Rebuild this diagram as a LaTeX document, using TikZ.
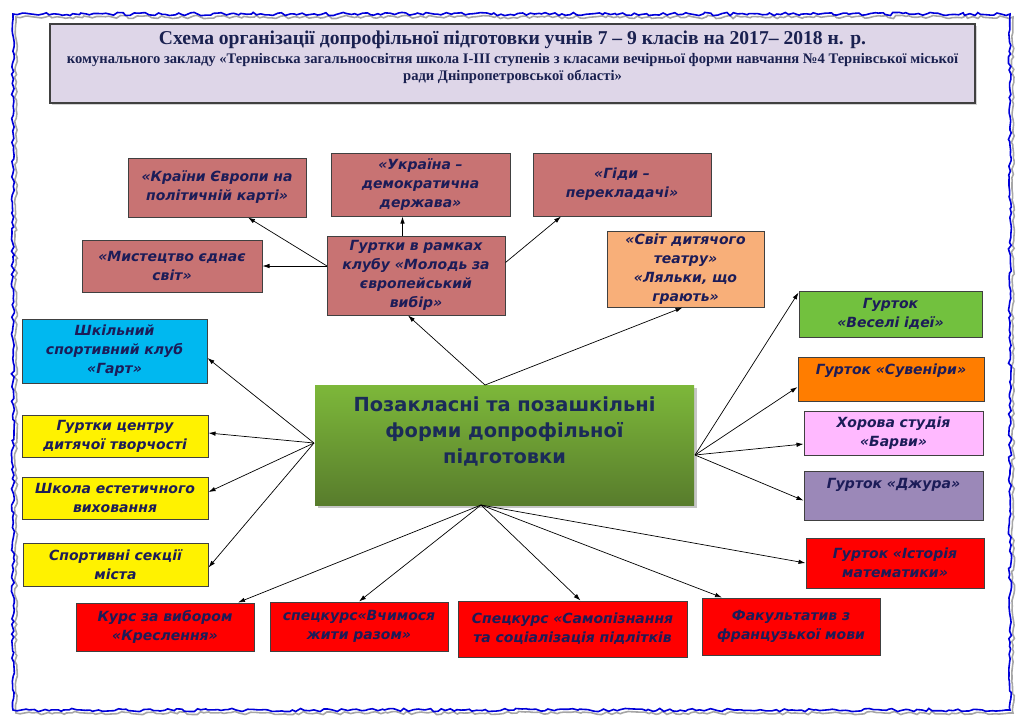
\documentclass[tikz,border=0pt]{standalone}
\usepackage{fontspec}
\setmainfont{Liberation Serif}
\newfontfamily\boxfont{DejaVu Sans}
\usetikzlibrary{arrows.meta, positioning, shadows, decorations.pathmorphing}

\definecolor{navy}{HTML}{1C1C58}
\definecolor{titlenavy}{HTML}{1A2150}
\definecolor{boxline}{HTML}{404040}
\definecolor{lavender}{HTML}{DED6E8}
\definecolor{clubrose}{HTML}{C87373}
\definecolor{teatrsalmon}{HTML}{F8AF79}
\definecolor{hartblue}{HTML}{00B8F0}
\definecolor{veseligreen}{HTML}{72C13E}
\definecolor{suvenirorange}{HTML}{FF7D00}
\definecolor{barvypink}{HTML}{FFB9FF}
\definecolor{dzhurapurple}{HTML}{9B88B8}
\definecolor{formstop}{HTML}{7DB83A}
\definecolor{formsbottom}{HTML}{587C2C}
\definecolor{formstext}{HTML}{1B2B58}

\tikzset{
  box/.style={draw=boxline, line width=1pt, inner sep=0pt, align=center,
    font=\boxfont\bfseries\itshape\fontsize{14}{19}\selectfont, text=navy},
  sz/.style 2 args={minimum width=#1pt, minimum height=#2pt, text width=#1pt},
  arr/.style={-{Latex[length=7pt,width=4.5pt]}, line width=0.7pt},
  frame/.style={draw=blue!85!black, line width=1.6pt,
    decorate, decoration={random steps, segment length=4pt, amplitude=1.6pt}},
}

\begin{document}
\begin{tikzpicture}[x=1pt, y=-1pt]
  \useasboundingbox (0,0) rectangle (1024,724);

  % wavy frame with its shadow
  \pgfmathsetseed{11}
  \draw[frame, draw=black!35] (16,17) rectangle (1013,713);
  \pgfmathsetseed{11}
  \draw[frame] (13,14) rectangle (1010,710);

  % title
  \node[draw=boxline, line width=1.2pt, fill=lavender, sz={925}{79}, inner sep=0pt,
        drop shadow={opacity=0.35, shadow xshift=2pt, shadow yshift=-2pt}]
        (title) at (512.5,63.5) {};
  \node[below=7pt of title.north, align=center, text=titlenavy, font=\bfseries,
        inner sep=0pt] (titletext)
    {\fontsize{19.6}{21}\selectfont Схема організації допрофільної підготовки учнів 7 – 9 класів на 2017– 2018 н. р.\\[4pt]
     \fontsize{14.6}{18.5}\selectfont комунального закладу «Тернівська загальноосвітня школа І-ІІІ ступенів з класами вечірньої форми навчання №4 Тернівської міської\\[2pt]
     \fontsize{14.6}{18.5}\selectfont ради Дніпропетровської області»};

  % centre
  \node[sz={379}{120}, inner sep=0pt, top color=formstop, bottom color=formsbottom,
        drop shadow={opacity=0.45, shadow xshift=3pt, shadow yshift=-3pt}]
        (forms) at (504.5,445) {};
  \node[align=center, text=formstext, inner sep=0pt,
        font=\boxfont\bfseries\fontsize{19.4}{26}\selectfont] (formstext) at (504.5,431)
    {Позакласні та позашкільні\\форми допрофільної\\підготовки};

  \coordinate (fl) at (314,443);
  \coordinate (fr) at (695,455);
  \coordinate (ft) at (485,385);
  \coordinate (fb) at (481,505);

  % club and its groups
  \node[box, fill=clubrose, sz={178}{79}] (klub) at (416,275.5)
    {Гуртки в рамках\\клубу «Молодь за\\європейський\\вибір»};
  \node[box, fill=clubrose, sz={178}{59}] (kraini) at (217,187.5)
    {«Країни Європи на\\політичній карті»};
  \node[box, fill=clubrose, sz={179}{63}] (ukraina) at (420.5,184.5)
    {«Україна –\\демократична\\держава»};
  \node[box, fill=clubrose, sz={178}{63}] (hidy) at (622,184.5)
    {«Гіди –\\перекладачі»};
  \node[box, fill=clubrose, sz={180}{52}] (mystets) at (172,266)
    {«Мистецтво єднає\\світ»};
  \node[box, fill=teatrsalmon, sz={157}{76}] (teatr) at (685.5,269)
    {«Світ дитячого\\театру»\\«Ляльки, що\\грають»};

  \coordinate (kl) at (327,266);
  \coordinate (ukup) at ([xshift=-18pt]ukraina.south);

  % left column
  \node[box, fill=hartblue, sz={185}{64}] (hart) at (114.5,351)
    {Шкільний\\спортивний клуб\\«Гарт»};
  \node[box, fill=yellow, sz={186}{42}] (tsentr) at (115,436)
    {Гуртки центру\\дитячої творчості};
  \node[box, fill=yellow, sz={186}{42}] (shkola) at (115,498)
    {Школа естетичного\\виховання};
  \node[box, fill=yellow, sz={185}{43}] (sport) at (115.5,564.5)
    {Спортивні секції\\міста};

  % right column
  \node[box, fill=veseligreen, sz={183}{46}] (veseli) at (890.5,314)
    {Гурток\\«Веселі ідеї»};
  \node[box, fill=suvenirorange, sz={186}{44}, text depth=22pt, text height=13pt]
    (suveniry) at (891,379) {Гурток «Сувеніри»};
  \node[box, fill=barvypink, sz={179}{44}] (barvy) at (893.5,433)
    {Хорова студія\\«Барви»};
  \node[box, fill=dzhurapurple, sz={179}{49}, text depth=27pt, text height=13pt]
    (dzhura) at (893.5,495.5) {Гурток «Джура»};
  \node[box, fill=red, sz={178}{50}] (istoria) at (895,563)
    {Гурток «Історія\\математики»};

  % bottom row
  \node[box, fill=red, sz={178}{48}] (kreslennia) at (165,627)
    {Курс за вибором\\«Креслення»};
  \node[box, fill=red, sz={178}{49}] (razom) at (359,626.5)
    {спецкурс«Вчимося\\жити разом»};
  \node[box, fill=red, sz={229}{56}] (samopizn) at (572.5,629)
    {Спецкурс «Самопізнання\\та соціалізація підлітків};
  \node[box, fill=red, sz={178}{57}] (fakult) at (791,626.5)
    {Факультатив з\\французької мови};

  % connectors
  \draw[arr] (kl) -- ([xshift=31pt]kraini.south);
  \draw[arr] (kl) -- (mystets.east |- kl);
  \draw[arr] (klub.north -| ukup) -- (ukup);
  \draw[arr] ([yshift=13pt]klub.east) -- ([xshift=-61pt]hidy.south);
  \draw[arr] (ft) -- ([xshift=-8pt]klub.south);
  \draw[arr] (ft) -- ([xshift=-3pt]teatr.south);

  \draw[arr] (fl) -- ([yshift=-7pt]hart.east);
  \draw[arr] (fl) -- ([yshift=3pt]tsentr.east);
  \draw[arr] (fl) -- ([yshift=6pt]shkola.east);
  \draw[arr] (fl) -- ([yshift=-3pt]sport.east);

  \draw[arr] (fr) -- ([yshift=-2pt]veseli.north west);
  \draw[arr] (fr) -- ([yshift=-8pt]suveniry.west);
  \draw[arr] (fr) -- ([yshift=-11pt]barvy.west);
  \draw[arr] (fr) -- ([yshift=-5pt]dzhura.west);

  \draw[arr] (fb) -- ([xshift=73pt]kreslennia.north);
  \draw[arr] (fb) -- (razom.north);
  \draw[arr] (fb) -- ([xshift=8pt]samopizn.north);
  \draw[arr] (fb) -- ([xshift=-69pt]fakult.north);
  \draw[arr] (fb) -- (istoria.west);
\end{tikzpicture}
\end{document}
